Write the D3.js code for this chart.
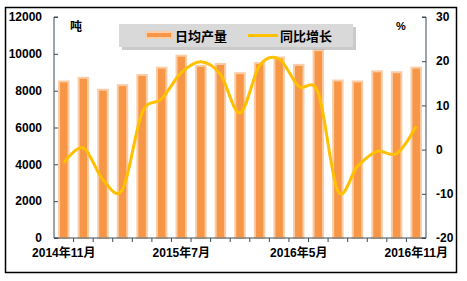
<!DOCTYPE html>
<html>
<head>
<meta charset="utf-8">
<script src="https://cdn.jsdelivr.net/npm/d3@7"></script>
<style>
  body { margin: 0; background: #fff; }
  text { font-family: Arial, "Liberation Sans", "Noto Sans CJK SC", sans-serif; font-weight: bold; fill: #000; }
</style>
</head>
<body>
<svg id="chart" width="467" height="281"></svg>
<script>
// months shown on the category axis (only every 6th label is drawn)
const months = [
  '2014年11月', '2014年12月', '2015年3月', '2015年4月', '2015年5月', '2015年6月',
  '2015年7月', '2015年8月', '2015年9月', '2015年10月', '2015年11月', '2015年12月',
  '2016年5月', '2016年6月', '2016年7月', '2016年8月', '2016年9月', '2016年10月', '2016年11月'
];
// 日均产量 (吨)
const dailyOutput = [8500, 8700, 8050, 8300, 8850, 9250, 9900, 9350, 9450, 8950,
  9500, 9800, 9400, 10200, 8550, 8500, 9050, 9000, 9250];
// 同比增长 (%)
const yoyGrowth = [-3.0, 0.4, -6.8, -9.0, 8.3, 11.5, 17.4, 19.9, 17.0, 8.3,
  19.0, 20.5, 14.3, 12.8, -9.4, -3.8, -0.4, -0.9, 5.3];
const leftTicks = [0, 2000, 4000, 6000, 8000, 10000, 12000];
const rightTicks = [-20, -10, 0, 10, 20, 30];
const shownLabels = [0, 6, 12, 18];

const svg = d3.select('#chart');
const plotLeft = 54, plotRight = 426, plotTop = 17, plotBottom = 238;
const axisColor = '#3a4a55';

// outer frame
svg.append('rect')
  .attr('x', 5.5).attr('y', 7.5)
  .attr('width', 451).attr('height', 265)
  .attr('fill', '#fff')
  .attr('stroke', '#000')
  .attr('stroke-width', 1.5);

const x = d3.scaleBand().domain(months).range([plotLeft, plotRight]);
const yL = d3.scaleLinear().domain([0, 12000]).range([plotBottom, plotTop]);
const yR = d3.scaleLinear().domain([-20, 30]).range([plotBottom, plotTop]);

// bars: pale outline around the orange fill
const barW = 9.5;
svg.append('g')
  .selectAll('rect')
  .data(dailyOutput)
  .join('rect')
  .attr('x', (d, i) => x(months[i]) + x.bandwidth() / 2 - barW / 2)
  .attr('y', d => yL(d))
  .attr('width', barW)
  .attr('height', d => plotBottom - yL(d))
  .attr('fill', '#f79646')
  .attr('stroke', '#fbcda6')
  .attr('stroke-width', 2);

// smooth line
const line = d3.line()
  .x((d, i) => x(months[i]) + x.bandwidth() / 2)
  .y(d => yR(d))
  .curve(d3.curveCardinal.tension(0));

svg.append('path')
  .datum(yoyGrowth)
  .attr('d', line)
  .attr('fill', 'none')
  .attr('stroke', '#ffc000')
  .attr('stroke-width', 3);

// left axis
const gL = svg.append('g')
  .attr('transform', `translate(${plotLeft},0)`)
  .call(d3.axisRight(yL).tickValues(leftTicks).tickSize(4).tickFormat(''));
gL.selectAll('line, path').attr('stroke', axisColor);
gL.select('.domain').attr('d', `M4,${plotTop}H0V${plotBottom}H4`);
svg.append('g')
  .selectAll('text')
  .data(leftTicks)
  .join('text')
  .attr('x', 42)
  .attr('y', d => yL(d))
  .attr('dy', '0.35em')
  .attr('text-anchor', 'end')
  .attr('font-size', 12)
  .text(d => d);

// right axis
const gR = svg.append('g')
  .attr('transform', `translate(${plotRight},0)`)
  .call(d3.axisLeft(yR).tickValues(rightTicks).tickSize(4).tickFormat(''));
gR.selectAll('line, path').attr('stroke', axisColor);
gR.select('.domain').attr('d', `M-4,${plotTop}H0V${plotBottom}H-4`);
svg.append('g')
  .selectAll('text')
  .data(rightTicks)
  .join('text')
  .attr('x', 436)
  .attr('y', d => yR(d))
  .attr('dy', '0.35em')
  .attr('font-size', 12)
  .text(d => d);

// category axis: ticks between the bars
const gX = svg.append('g')
  .attr('transform', `translate(0,${plotBottom})`);
gX.append('line')
  .attr('x1', plotLeft).attr('x2', plotRight)
  .attr('stroke', axisColor);
gX.selectAll('line.tick')
  .data(months.slice(1))
  .join('line')
  .attr('class', 'tick')
  .attr('x1', d => x(d)).attr('x2', d => x(d))
  .attr('y1', 0).attr('y2', 4)
  .attr('stroke', axisColor);
gX.selectAll('text')
  .data(shownLabels)
  .join('text')
  .attr('x', i => x(months[i]) + x.bandwidth() / 2)
  .attr('y', 19)
  .attr('text-anchor', 'middle')
  .attr('font-size', 12)
  .text(i => months[i]);

// unit labels
svg.append('text').attr('x', 70).attr('y', 31).attr('font-size', 12).text('吨');
svg.append('text').attr('x', 396).attr('y', 30).attr('font-size', 11).text('%');

// legend box with shadow
const lg = svg.append('g').attr('transform', 'translate(119,24)');
lg.append('rect')
  .attr('x', 3).attr('y', 3).attr('width', 234).attr('height', 23)
  .attr('fill', '#a6a6a6').attr('opacity', 0.6);
lg.append('rect')
  .attr('width', 234).attr('height', 23)
  .attr('fill', '#d9d9d9');
lg.append('rect')
  .attr('x', 27).attr('y', 8).attr('width', 26).attr('height', 6)
  .attr('fill', '#f79646').attr('stroke', '#fbcda6').attr('stroke-width', 2);
lg.append('text').attr('x', 56).attr('y', 16.5).attr('font-size', 13).text('日均产量');
lg.append('line')
  .attr('x1', 129).attr('x2', 159).attr('y1', 11.5).attr('y2', 11.5)
  .attr('stroke', '#ffc000').attr('stroke-width', 3);
lg.append('text').attr('x', 161).attr('y', 16.5).attr('font-size', 13).text('同比增长');
</script>
</body>
</html>
